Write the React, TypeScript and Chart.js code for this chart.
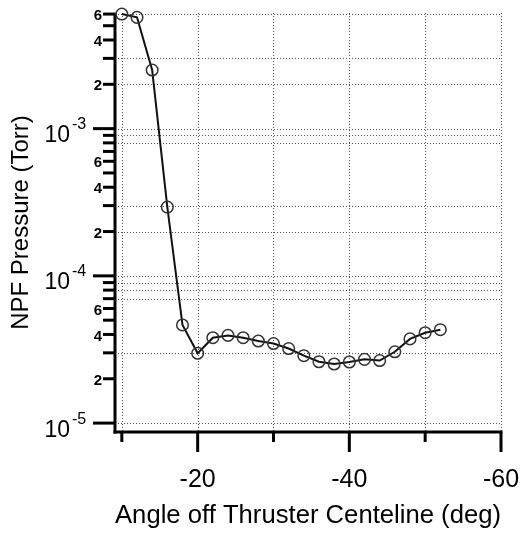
import { useEffect, useRef } from 'react';
import { Chart, registerables } from 'chart.js';

Chart.register(...registerables);

// ---- data ----
const angles = [-10, -12, -14, -16, -18, -20, -22, -24, -26, -28, -30, -32, -34, -36, -38, -40, -42, -44, -46, -48, -50, -52];
const pressures = [
  6.0e-3, 5.7e-3, 2.5e-3, 2.93e-4, 4.64e-5, 2.98e-5, 3.8e-5, 3.94e-5, 3.8e-5, 3.61e-5, 3.47e-5,
  3.21e-5, 2.87e-5, 2.61e-5, 2.52e-5, 2.6e-5, 2.71e-5, 2.66e-5, 3.05e-5, 3.73e-5, 4.11e-5, 4.31e-5,
];
const xTickValues = [-10, -20, -30, -40, -50, -60];
const xLabeledTicks = [-20, -40, -60];
const yDecades = [-5, -4, -3];
const yLabeledMinor = [2, 4, 6];
const yGridValues = [6e-3, 3e-3, 2e-3, 1e-3, 9e-4, 8e-4, 3e-4, 2e-4, 1e-4, 9e-5, 8e-5, 7e-5, 3e-5, 1e-5];
const xTitle = 'Angle off Thruster Centeline (deg)';
const yTitle = 'NPF Pressure (Torr)';

const X_MIN = -60;
const X_MAX = -9.1;
const Y_MIN = 8.7e-6;
const Y_MAX = 6.1e-3;

const FONT = '"Liberation Sans", Arial, Helvetica, sans-serif';

function decompose(v: number) {
  const e = Math.floor(Math.log10(v) + 1e-9);
  const m = Math.round(v / Math.pow(10, e));
  return { e, m };
}

const axesPlugin = {
  id: 'customAxes',
  beforeDatasetsDraw(chart: any) {
    const { ctx, chartArea: a, scales } = chart;
    const x = scales.x;
    const y = scales.y;
    const line = (x1: number, y1: number, x2: number, y2: number) => {
      ctx.beginPath();
      ctx.moveTo(x1, y1);
      ctx.lineTo(x2, y2);
      ctx.stroke();
    };
    ctx.save();
    // dotted grid
    ctx.strokeStyle = '#555';
    ctx.lineWidth = 1;
    ctx.setLineDash([1, 2]);
    for (const t of x.ticks) {
      const px = Math.round(x.getPixelForValue(t.value)) + 0.5;
      line(px, a.top, px, a.bottom);
    }
    for (const v of yGridValues) {
      const py = Math.round(y.getPixelForValue(v)) + 0.5;
      line(a.left, py, a.right, py);
    }
    ctx.setLineDash([]);
    // axis lines
    ctx.strokeStyle = '#000';
    ctx.lineWidth = 3;
    line(a.left, a.top, a.left, a.bottom + 1.5);
    line(a.left - 1.5, a.bottom, a.right + 1.5, a.bottom);
    // x tick marks
    for (const t of x.ticks) {
      const px = x.getPixelForValue(t.value);
      const long = xLabeledTicks.includes(t.value);
      line(px, a.bottom, px, a.bottom + (long ? 20 : 10));
    }
    // y tick marks
    for (const t of y.ticks) {
      const py = y.getPixelForValue(t.value);
      const { m } = decompose(t.value);
      line(a.left - (m === 1 ? 22 : 12), py, a.left, py);
    }
    ctx.restore();
  },
  afterDraw(chart: any) {
    const { ctx, chartArea: a, scales } = chart;
    const y = scales.y;
    ctx.save();
    ctx.fillStyle = '#000';
    for (const t of y.ticks) {
      const py = y.getPixelForValue(t.value);
      const { e, m } = decompose(t.value);
      if (m === 1) {
        ctx.font = `23px ${FONT}`;
        ctx.textAlign = 'right';
        ctx.textBaseline = 'alphabetic';
        ctx.fillText('10', a.left - 45, py + 13.5);
        ctx.font = `16px ${FONT}`;
        ctx.textAlign = 'left';
        ctx.fillText(String(e), a.left - 43, py + 0.5);
      } else if (yLabeledMinor.includes(m)) {
        ctx.font = `bold 15px ${FONT}`;
        ctx.textAlign = 'right';
        ctx.textBaseline = 'middle';
        ctx.fillText(String(m), a.left - 13, py + 2);
      }
    }
    ctx.restore();
  },
};

export default function App() {
  const ref = useRef<HTMLCanvasElement | null>(null);

  useEffect(() => {
    const canvas = ref.current;
    if (!canvas) return;
    const chart = new Chart(canvas, {
      type: 'line',
      data: {
        datasets: [
          {
            data: angles.map((a, i) => ({ x: a, y: pressures[i] })),
            borderColor: '#111',
            borderWidth: 2,
            tension: 0,
            pointStyle: 'circle',
            pointRadius: 5.8,
            pointBorderWidth: 1.5,
            pointBorderColor: '#333',
            pointBackgroundColor: 'rgba(255,255,255,0)',
            fill: false,
            clip: false as any,
          },
        ],
      },
      options: {
        responsive: false,
        animation: false,
        devicePixelRatio: 1,
        layout: { padding: { top: 13, right: 23, left: 0, bottom: 0 } },
        plugins: {
          legend: { display: false },
          tooltip: { enabled: false },
        },
        scales: {
          x: {
            type: 'linear',
            min: X_MIN,
            max: X_MAX,
            reverse: true,
            grid: { display: false, drawTicks: false },
            border: { display: false },
            afterBuildTicks: (scale: any) => {
              scale.ticks = xTickValues.map((v) => ({ value: v }));
            },
            afterFit: (scale: any) => {
              scale.height = 102;
              scale.paddingLeft = 0;
              scale.paddingRight = 0;
            },
            ticks: {
              autoSkip: false,
              maxRotation: 0,
              padding: 33,
              color: '#000',
              font: { family: FONT, size: 25 },
              callback: (v: any) => (xLabeledTicks.includes(Number(v)) ? String(v) : ''),
            },
            title: {
              display: true,
              text: xTitle,
              color: '#000',
              font: { family: FONT, size: 26 },
              padding: { top: 0, bottom: 3 },
            },
          },
          y: {
            type: 'logarithmic',
            min: Y_MIN,
            max: Y_MAX,
            grid: { display: false, drawTicks: false },
            border: { display: false },
            afterBuildTicks: (scale: any) => {
              const ticks: any[] = [];
              for (const e of yDecades) {
                for (let m = 1; m <= 9; m++) {
                  const v = m * Math.pow(10, e);
                  if (v >= Y_MIN && v <= Y_MAX * 1.0001) ticks.push({ value: v, major: m === 1 });
                }
              }
              scale.ticks = ticks;
            },
            afterFit: (scale: any) => {
              scale.width = 115;
              scale.paddingTop = 0;
              scale.paddingBottom = 0;
            },
            ticks: { display: false },
            title: {
              display: true,
              text: yTitle,
              color: '#000',
              font: { family: FONT, size: 24 },
              padding: { top: 7, bottom: 0 },
            },
          },
        },
      },
      plugins: [axesPlugin],
    });
    return () => chart.destroy();
  }, []);

  return (
    <div style={{ position: 'absolute', left: 0, top: 0, width: 524, height: 534, background: '#fff' }}>
      <canvas ref={ref} width={524} height={534} style={{ display: 'block' }} />
    </div>
  );
}
